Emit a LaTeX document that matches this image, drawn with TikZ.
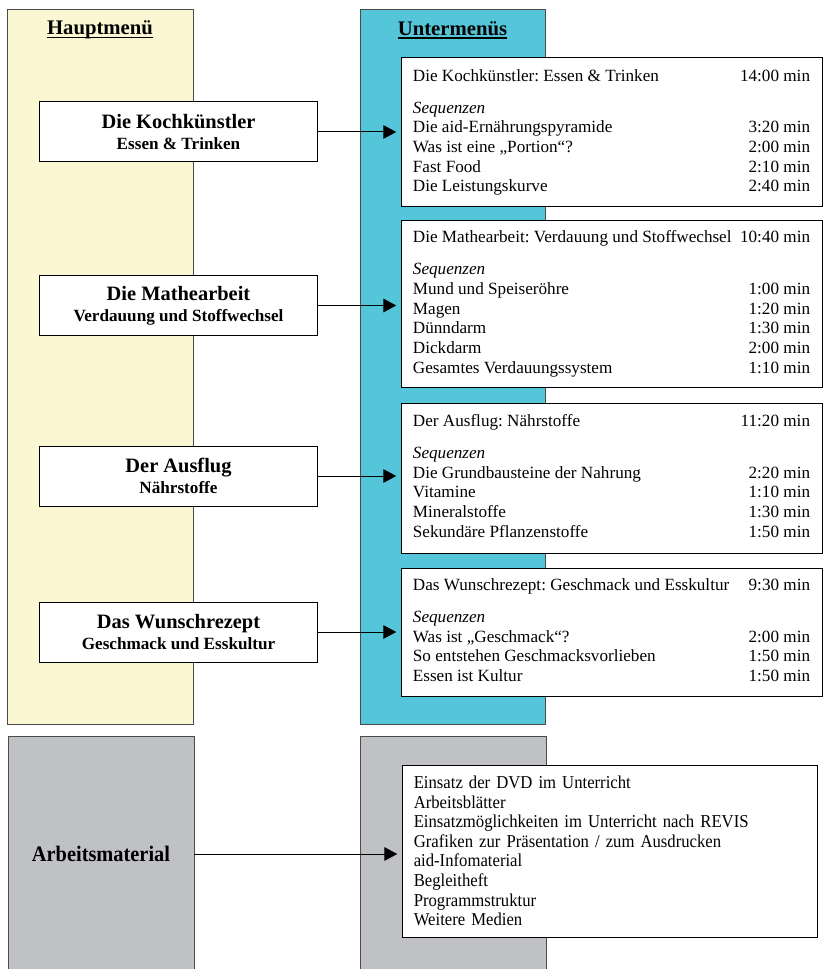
\documentclass[tikz,border=0pt]{standalone}
\usepackage{fontspec}
\setmainfont{Liberation Serif}
\newfontfamily\narrowfont[FakeStretch=0.92]{Liberation Serif}
\usetikzlibrary{arrows.meta}
\frenchspacing

\definecolor{menuyellow}{HTML}{FAF7D2}
\definecolor{menublue}{HTML}{55C5D9}
\definecolor{menugray}{HTML}{C0C1C5}
\definecolor{rimgray}{HTML}{4A4A4A}

\newcommand{\ulhead}[1]{\setbox0\hbox{#1}\usebox0\llap{\rule[-2.6pt]{\wd0}{1pt}}}
\newcommand{\mainlabel}[2]{{\fontsize{14.3}{15}\selectfont #1}\\[2.5pt]{\fontsize{12}{13}\selectfont #2}}
\newcommand{\seqtable}[2]{\begin{tabular*}{278pt}{@{}l@{\extracolsep{\fill}}r@{}}#1\\[8.6pt]\textit{Sequenzen} & \\ #2\end{tabular*}}

\tikzset{
  column/.style={draw=rimgray, line width=.7pt, minimum width=129.5pt, minimum height=499.8pt, inner sep=0pt},
  heading/.style={font=\fontsize{14.5}{16}\selectfont\bfseries},
  mainbox/.style={draw, fill=white, line width=.7pt, minimum width=194pt, minimum height=42pt, align=center, inner sep=2pt, font=\bfseries},
  subbox/.style={draw, fill=white, line width=.7pt, minimum width=294.7pt, inner xsep=8pt, inner ysep=0pt, font=\fontsize{12}{13.8}\selectfont},
  link/.style={-{Triangle[length=9pt,width=9.5pt]}, line width=.7pt, shorten >=3pt},
}

\begin{document}
\begin{tikzpicture}[x=.7pt, y=-.7pt]
\useasboundingbox (0,0) rectangle (823,969);

% Spalten
\node[column, fill=menuyellow] (hmenu) at (100.5,367) {};
\node[column, fill=menublue] (umenu) at (453,367) {};
\node[heading] at (100,30) {\ulhead{Hauptmenü}};
\node[heading] at (452.5,30) {\ulhead{Untermenüs}};

\node[fill=menugray, minimum width=129.5pt, minimum height=162.4pt, inner sep=0pt] (grayL) at (101.5,853) {};
\node[fill=menugray, minimum width=129.5pt, minimum height=162.4pt, inner sep=0pt] (grayR) at (453.5,853) {};
\draw[rimgray, line width=.7pt] (grayL.south west) -- (grayL.north west) -- (grayL.north east) -- (grayL.south east);
\draw[rimgray, line width=.7pt] (grayR.south west) -- (grayR.north west) -- (grayR.north east) -- (grayR.south east);

% Hauptmenue
\node[mainbox] (kochL) at (178.5,132) {\mainlabel{Die Kochkünstler}{Essen \& Trinken}};
\node[mainbox] (matheL) at (178.5,305.5) {\mainlabel{Die Mathearbeit}{Verdauung und Stoffwechsel}};
\node[mainbox] (ausflugL) at (178.5,476) {\mainlabel{Der Ausflug}{Nährstoffe}};
\node[mainbox] (wunschL) at (178.5,632) {\mainlabel{Das Wunschrezept}{Geschmack und Esskultur}};

% Untermenues
\node[subbox, minimum height=104.3pt] (kochR) at (611.5,132.5) {\seqtable{Die Kochkünstler: Essen \& Trinken & 14:00 min}{%
  Die aid-Ernährungspyramide & 3:20 min\\
  Was ist eine „Portion“? & 2:00 min\\
  Fast Food & 2:10 min\\
  Die Leistungskurve & 2:40 min}};
\node[subbox, minimum height=116.2pt] (matheR) at (611.5,304) {\seqtable{Die Mathearbeit: Verdauung und Stoffwechsel & 10:40 min}{%
  Mund und Speiseröhre & 1:00 min\\
  Magen & 1:20 min\\
  Dünndarm & 1:30 min\\
  Dickdarm & 2:00 min\\
  Gesamtes Verdauungssystem & 1:10 min}};
\node[subbox, minimum height=105pt] (ausflugR) at (611.5,478) {\seqtable{Der Ausflug: Nährstoffe & 11:20 min}{%
  Die Grundbausteine der Nahrung & 2:20 min\\
  Vitamine & 1:10 min\\
  Mineralstoffe & 1:30 min\\
  Sekundäre Pflanzenstoffe & 1:50 min}};
\node[subbox, minimum height=89.6pt] (wunschR) at (611.5,632) {\seqtable{Das Wunschrezept: Geschmack und Esskultur & 9:30 min}{%
  Was ist „Geschmack“? & 2:00 min\\
  So entstehen Geschmacksvorlieben & 1:50 min\\
  Essen ist Kultur & 1:50 min}};

% Arbeitsmaterial
\node[font=\fontsize{15.5}{17}\selectfont\narrowfont\bfseries] (amL) at (101,854) {Arbeitsmaterial};
\node[subbox, minimum width=290.5pt, minimum height=120.4pt, text width=274pt, align=left, font=\fontsize{12.7}{13.7}\selectfont\narrowfont] (amR) at (609.5,851) {%
  Einsatz der DVD im Unterricht\\
  Arbeitsblätter\\
  Einsatzmöglichkeiten im Unterricht nach REVIS\\
  Grafiken zur Präsentation / zum Ausdrucken\\
  aid-Infomaterial\\
  Begleitheft\\
  Programmstruktur\\
  Weitere Medien};

% Pfeile
\draw[link] (kochL) -- (kochL -| kochR.west);
\draw[link] (matheL) -- (matheL -| matheR.west);
\draw[link] (ausflugL) -- (ausflugL -| ausflugR.west);
\draw[link] (wunschL) -- (wunschL -| wunschR.west);
\draw[link] (amL -| grayL.east) -- (amL -| amR.west);
\end{tikzpicture}
\end{document}
